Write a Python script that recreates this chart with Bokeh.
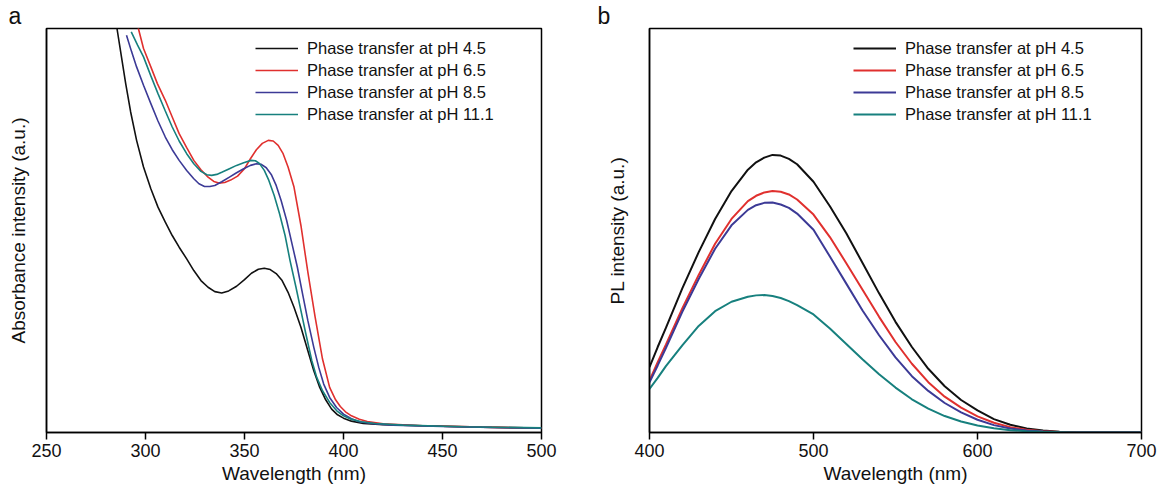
from bokeh.plotting import figure
from bokeh.layouts import row
from bokeh.models import Legend, LegendItem, FixedTicker, Range1d
from bokeh.embed import file_html
from bokeh.resources import INLINE

# ---------------- Panel a: absorbance ----------------
abs_45_x = [283, 285.6, 288, 290, 292.5, 295.5, 299, 302.7, 306.3, 310, 313.5, 317, 320.8, 324.4, 328, 331.6, 335, 338.5, 342, 346, 350, 353.5, 357, 360, 363, 366, 369, 372, 375, 378.5, 382, 385, 388, 391, 394, 397, 400, 404, 410, 420, 440, 470, 500]
abs_45_y = [1.35, 1.21, 1.12, 1.045, 0.96, 0.875, 0.795, 0.73, 0.675, 0.63, 0.59, 0.555, 0.52, 0.485, 0.455, 0.435, 0.422, 0.418, 0.424, 0.438, 0.458, 0.477, 0.489, 0.492, 0.488, 0.476, 0.455, 0.42, 0.375, 0.315, 0.245, 0.185, 0.135, 0.098, 0.07, 0.053, 0.043, 0.034, 0.027, 0.023, 0.02, 0.016, 0.013]

abs_65_x = [294, 296.4, 299, 302.7, 306, 310, 313.5, 317, 320.8, 324.4, 328, 331.6, 334.5, 337, 340, 343, 346.5, 350, 353, 356, 359, 362, 364.5, 367, 369.5, 372, 375, 378.5, 382, 385.7, 389.4, 393, 396, 398.4, 401, 404, 408, 412, 420, 440, 470, 500]
abs_65_y = [1.3, 1.21, 1.15, 1.095, 1.045, 0.995, 0.945, 0.895, 0.853, 0.815, 0.787, 0.765, 0.752, 0.747, 0.749, 0.756, 0.768, 0.79, 0.82, 0.847, 0.866, 0.875, 0.873, 0.86, 0.835, 0.795, 0.735, 0.62, 0.48, 0.345, 0.22, 0.135, 0.098, 0.078, 0.062, 0.05, 0.04, 0.033, 0.026, 0.02, 0.016, 0.013]

abs_85_x = [290.4, 293, 295.5, 299, 302.7, 306.3, 310, 313.5, 317, 320.8, 324.4, 327, 329.8, 332.5, 335, 338.5, 342.4, 346, 349.6, 353, 356, 358.5, 361, 363.5, 366, 368.5, 371.3, 374, 376.7, 379.5, 382, 385, 387.5, 390, 393, 396.5, 400, 404, 408, 415, 425, 450, 475, 500]
abs_85_y = [1.19, 1.14, 1.095, 1.04, 0.985, 0.933, 0.885, 0.847, 0.815, 0.785, 0.76, 0.745, 0.737, 0.737, 0.74, 0.751, 0.765, 0.778, 0.79, 0.8, 0.805, 0.803, 0.793, 0.773, 0.74, 0.695, 0.635, 0.565, 0.495, 0.41, 0.335, 0.255, 0.195, 0.145, 0.105, 0.075, 0.055, 0.041, 0.032, 0.026, 0.022, 0.018, 0.015, 0.013]

abs_111_x = [292.8, 296, 299, 302.7, 306.3, 310, 313.5, 317, 320.8, 324.4, 328, 331, 333.4, 336, 338.8, 342.4, 346, 349.6, 353.3, 355.5, 357.5, 360, 362.3, 365, 367.7, 370.5, 373, 376, 378.5, 381, 384, 386.5, 389.4, 393, 396.6, 400, 403.8, 409, 416, 430, 460, 500]
abs_111_y = [1.2, 1.16, 1.125, 1.068, 1.015, 0.963, 0.915, 0.873, 0.835, 0.805, 0.782, 0.772, 0.77, 0.773, 0.78, 0.79, 0.8, 0.808, 0.815, 0.814, 0.806, 0.785, 0.755, 0.71, 0.655, 0.59, 0.515, 0.435, 0.365, 0.295, 0.215, 0.165, 0.125, 0.09, 0.065, 0.05, 0.04, 0.032, 0.027, 0.022, 0.017, 0.014]

# ---------------- Panel b: PL ----------------
pl_x = [400, 405, 410, 420, 430, 440, 450, 460, 465, 470, 475, 480, 485, 490, 500, 510, 520, 530, 540, 550, 560, 570, 580, 590, 600, 610, 620, 630, 640, 650, 660, 680, 700]
pl_45_y = [0.195, 0.255, 0.312, 0.43, 0.538, 0.637, 0.72, 0.784, 0.806, 0.82, 0.828, 0.826, 0.816, 0.8, 0.748, 0.675, 0.594, 0.505, 0.415, 0.33, 0.255, 0.19, 0.138, 0.097, 0.066, 0.04, 0.023, 0.012, 0.006, 0.002, 0.001, 0.0, 0.0]
pl_65_y = [0.155, 0.21, 0.262, 0.37, 0.47, 0.563, 0.637, 0.69, 0.706, 0.716, 0.72, 0.718, 0.71, 0.695, 0.65, 0.583, 0.505, 0.425, 0.345, 0.27, 0.205, 0.15, 0.107, 0.074, 0.048, 0.029, 0.016, 0.008, 0.004, 0.0015, 0.0005, 0.0, 0.0]
pl_85_y = [0.15, 0.2, 0.252, 0.36, 0.458, 0.548, 0.618, 0.664, 0.678, 0.685, 0.686, 0.68, 0.67, 0.653, 0.605, 0.525, 0.444, 0.363, 0.29, 0.224, 0.168, 0.124, 0.088, 0.06, 0.038, 0.022, 0.012, 0.006, 0.003, 0.001, 0.0, 0.0, 0.0]
pl_111_y = [0.13, 0.163, 0.198, 0.26, 0.318, 0.362, 0.39, 0.405, 0.409, 0.41, 0.407, 0.401, 0.392, 0.38, 0.352, 0.31, 0.264, 0.218, 0.174, 0.134, 0.099, 0.071, 0.049, 0.033, 0.021, 0.013, 0.007, 0.004, 0.002, 0.001, 0.0, 0.0, 0.0]

labels = ["Phase transfer at pH 4.5", "Phase transfer at pH 6.5",
          "Phase transfer at pH 8.5", "Phase transfer at pH 11.1"]
colors = ["#111111", "#e0302e", "#3c3a96", "#17807e"]

a_ticks = [250, 300, 350, 400, 450, 500]
b_ticks = [400, 500, 600, 700]

FONT = "Liberation Sans"
H = 491
TOP = 28
BOTTOM = 59


def style(p, ticks, ylabel, ystand, panel_letter, title_offset):
    p.outline_line_color = "black"
    p.outline_line_width = 1.5
    p.grid.visible = False
    p.background_fill_color = "white"
    p.border_fill_color = "white"
    p.title.text = panel_letter
    p.title.align = "left"
    p.title.offset = title_offset
    p.title.standoff = 0
    p.title.text_font = FONT
    p.title.text_font_size = "23px"
    p.title.text_font_style = "normal"
    p.title.text_color = "#111111"
    p.title.text_line_height = 1.0
    xa = p.xaxis[0]
    xa.ticker = FixedTicker(ticks=ticks)
    xa.major_tick_out = 7
    xa.major_tick_in = 0
    xa.minor_tick_line_color = None
    xa.axis_line_width = 1.5
    xa.major_tick_line_width = 1.5
    xa.major_label_text_font = FONT
    xa.major_label_text_font_size = "18px"
    xa.major_label_text_color = "#111111"
    xa.major_label_standoff = 4
    xa.axis_label = "Wavelength (nm)"
    xa.axis_label_text_font = FONT
    xa.axis_label_text_font_size = "19px"
    xa.axis_label_text_font_style = "normal"
    xa.axis_label_text_color = "#111111"
    xa.axis_label_standoff = 3
    ya = p.yaxis[0]
    ya.major_tick_line_color = None
    ya.minor_tick_line_color = None
    ya.major_label_text_font_size = "0px"
    ya.major_label_text_color = None
    ya.axis_line_width = 1.5
    ya.axis_label = ylabel
    ya.axis_label_text_font = FONT
    ya.axis_label_text_font_size = "19px"
    ya.axis_label_text_font_style = "normal"
    ya.axis_label_text_color = "#111111"
    ya.axis_label_standoff = ystand


def add_legend(p, renderers, x):
    items = [LegendItem(label=l, renderers=[r]) for l, r in zip(labels, renderers)]
    leg = Legend(items=items, location=(x, 307))
    leg.padding = 0
    leg.margin = 0
    leg.spacing = 0
    leg.glyph_width = 43
    leg.glyph_height = 22
    leg.label_height = 22
    leg.label_standoff = 9
    leg.label_text_font = FONT
    leg.label_text_font_size = "16.5px"
    leg.label_text_color = "#111111"
    leg.border_line_alpha = 0
    leg.background_fill_alpha = 0
    p.add_layout(leg, "center")


# Panel a
pa = figure(width=590, height=H, output_backend="svg", toolbar_location=None,
            x_range=Range1d(250, 500), y_range=Range1d(0, 1.21),
            min_border_left=46, min_border_right=49, min_border_top=TOP, min_border_bottom=BOTTOM)
style(pa, a_ticks, "Absorbance intensity (a.u.)", 12, "a", -38)
ra = []
for xs, ys, c in zip([abs_45_x, abs_65_x, abs_85_x, abs_111_x],
                     [abs_45_y, abs_65_y, abs_85_y, abs_111_y], colors):
    ra.append(pa.line(xs, ys, line_color=c, line_width=1.6))
add_legend(pa, ra, 209)

# Panel b
pb = figure(width=573, height=H, output_backend="svg", toolbar_location=None,
            x_range=Range1d(400, 700), y_range=Range1d(0, 1.205),
            min_border_left=59, min_border_right=22, min_border_top=TOP, min_border_bottom=BOTTOM)
style(pb, b_ticks, "PL intensity (a.u.)", 16, "b", -52)
rb = []
for ys, c in zip([pl_45_y, pl_65_y, pl_85_y, pl_111_y], colors):
    rb.append(pb.line(pl_x, ys, line_color=c, line_width=2))
add_legend(pb, rb, 204)

layout = row(pa, pb, spacing=0)
open("out.html", "w").write(file_html(layout, INLINE))
